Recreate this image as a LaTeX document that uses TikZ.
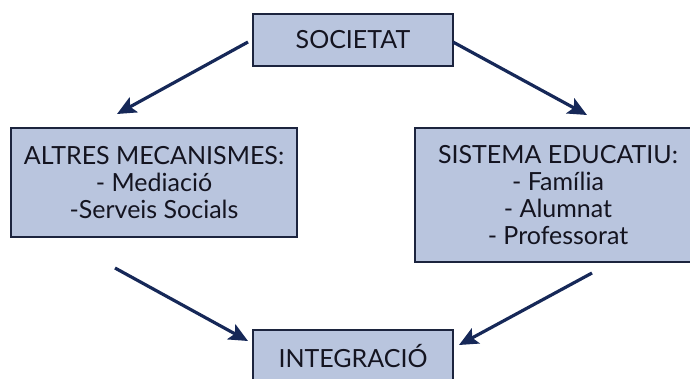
\documentclass[tikz,border=0pt]{standalone}
\usepackage{fontspec}
\setmainfont{Lato}
\usetikzlibrary{arrows.meta}

\definecolor{boxfill}{RGB}{185,197,222}
\definecolor{boxline}{RGB}{28,36,62}
\definecolor{arrowcol}{RGB}{22,40,88}
\definecolor{textcol}{RGB}{20,20,32}

\tikzset{
  box/.style={draw=boxline, line width=1.8pt, fill=boxfill, text=textcol, align=center, inner sep=0pt, font=\fontsize{25}{27}\selectfont},
  arr/.style={draw=arrowcol, line width=3.2pt, -{Stealth[length=19pt,width=17pt,inset=4pt]}}
}

\begin{document}
\begin{tikzpicture}[x=1pt,y=-1pt]

\useasboundingbox (0,0) rectangle (690,378);
\clip (0,0) rectangle (690,378);

\node[box, minimum width=200pt, minimum height=52pt] (soc) at (353,40) {SOCIETAT};
\node[box, minimum width=286pt, minimum height=109pt] (altres) at (154,182.5) {ALTRES MECANISMES:\\- Mediació\\-Serveis Socials};
\node[box, minimum width=286pt, minimum height=134pt] (sistema) at (558,195) {SISTEMA EDUCATIU:\\- Família\\- Alumnat\\- Professorat};
\node[box, minimum width=200pt, minimum height=52pt] (integ) at (353,356) {INTEGRACIÓ};

\coordinate (socL) at (248,42);
\coordinate (socR) at (453,42);
\coordinate (altresT) at (117,114);
\coordinate (sistemaT) at (587,115);
\coordinate (altresB) at (115,268);
\coordinate (sistemaB) at (592,273);
\coordinate (integL) at (248,341);
\coordinate (integR) at (459,345);

\draw[arr] (socL) -- (altresT);
\draw[arr] (socR) -- (sistemaT);
\draw[arr] (altresB) -- (integL);
\draw[arr] (sistemaB) -- (integR);

\end{tikzpicture}
\end{document}
